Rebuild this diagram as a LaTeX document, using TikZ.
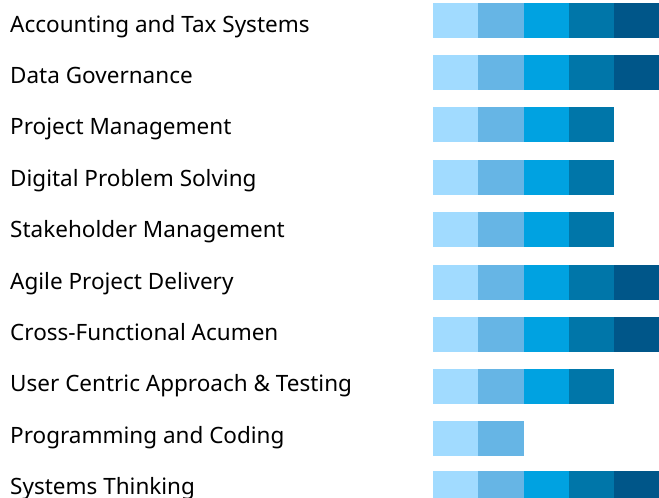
\documentclass[tikz,border=0pt]{standalone}
\usepackage{fontspec}
\setmainfont{Noto Sans}
\definecolor{lvlA}{HTML}{A1DBFF}
\definecolor{lvlB}{HTML}{66B5E5}
\definecolor{lvlC}{HTML}{00A2E1}
\definecolor{lvlD}{HTML}{0076A9}
\definecolor{lvlE}{HTML}{005689}
\tikzset{
	skill/.style={anchor=base west, inner sep=0pt, font=\fontsize{22.5}{26}\selectfont},
	seg/.style={inner sep=0pt, minimum width=45.2pt, minimum height=35pt, anchor=north west}
}
\begin{document}
\begin{tikzpicture}[x=1pt,y=-1pt]
	\useasboundingbox (0,0) rectangle (659,498);
	% one row per skill: top of bar / label / level
	\foreach \top/\name/\lvl [count=\i] in {3/Accounting and Tax Systems/5, 55/Data Governance/5, 107/Project Management/4, 160/Digital Problem Solving/4, 212/Stakeholder Management/4, 265/Agile Project Delivery/5, 317/Cross-Functional Acumen/5, 369/User Centric Approach \& Testing/4, 421/Programming and Coding/2, 471/Systems Thinking/5}{
		\node [skill] (label\i) at (10,{32+51.4*(\i-1)}) {\name};
		\foreach \c [count=\j] in {lvlA,lvlB,lvlC,lvlD,lvlE}{
			\ifnum\j>\lvl\else
				\node [seg, fill=\c] (bar\i-\j) at ({433+45.2*(\j-1)},\top) {};
			\fi
		}
	}
\end{tikzpicture}
\end{document}
